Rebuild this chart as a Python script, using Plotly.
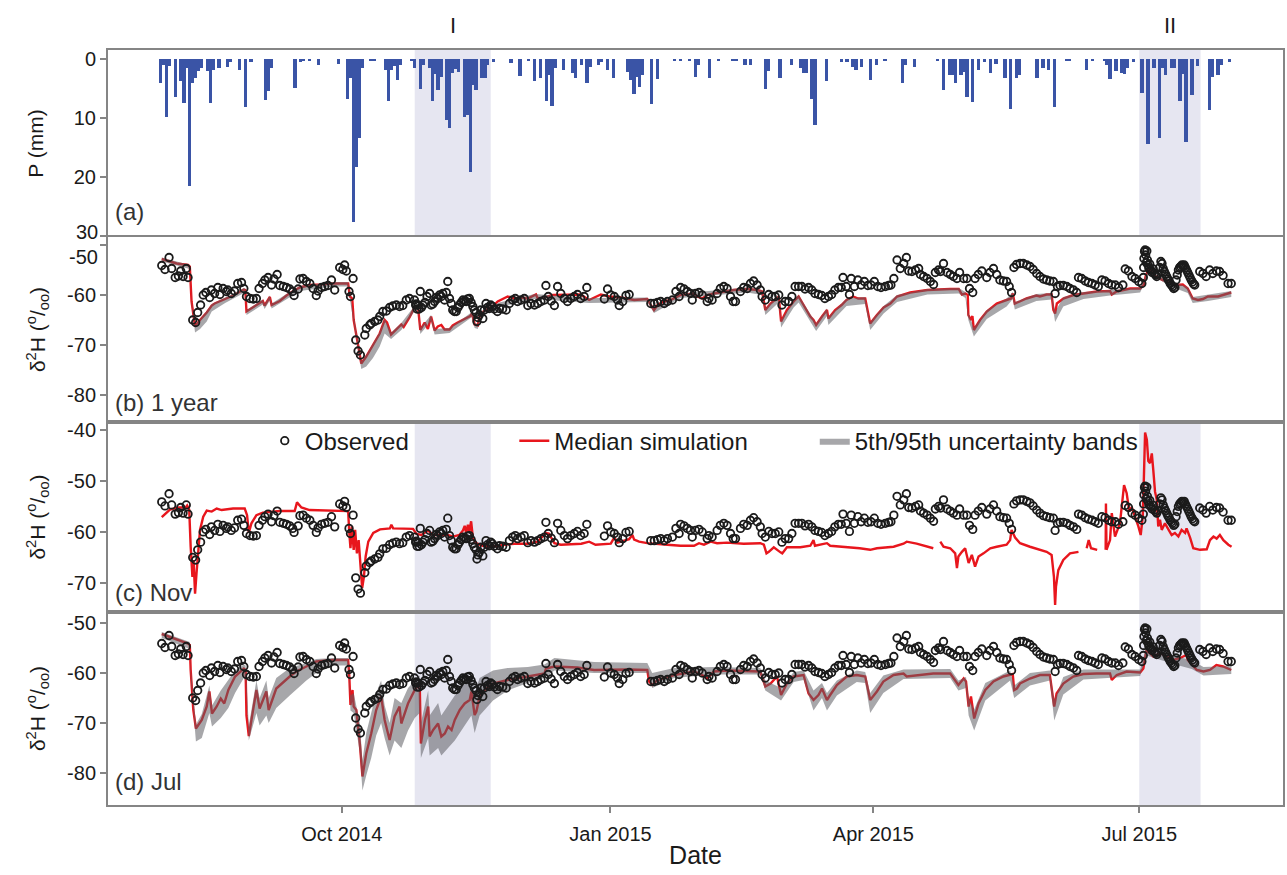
import pandas as pd
import plotly.graph_objects as go
from plotly.subplots import make_subplots

ORIGIN = pd.Timestamp("2014-10-01")  # day numbers below are days since this date

# ---------------- (a) precipitation (mm per day) ----------------
p_day = [-62, -61, -60, -59, -57, -55, -54, -53, -52, -51, -50, -49, -48, -46, -45, -44, -42, -39, -38,
         -35, -33, -31, -26, -25, -24, -16, -14, -13, -11, -8, -1, 2, 3, 4, 5, 6, 7, 10, 11, 15, 16, 17,
         18, 19, 20, 24, 25, 27, 28, 30, 31, 32, 33, 34, 36, 37, 38, 39, 40, 42, 43, 44, 45, 46, 48, 49,
         50, 52, 58, 61, 64, 66, 68, 70, 71, 72, 73, 76, 79, 80, 82, 84, 85, 88, 89, 91, 93, 98, 99, 100,
         101, 102, 103, 106, 108, 114, 116, 119, 121, 122, 126, 129, 134, 135, 138, 140, 145, 146, 150,
         154, 157, 158, 159, 161, 162, 166, 171, 173, 175, 176, 178, 181, 183, 186, 192, 193, 196, 204,
         206, 208, 209, 210, 212, 213, 214, 216, 218, 220, 222, 224, 227, 229, 231, 232, 238, 240, 242,
         244, 248, 249, 255, 257, 261, 262, 263, 265, 267, 268, 269, 271, 274, 276, 278, 280, 281, 282,
         284, 285, 287, 288, 289, 291, 293, 297, 298, 300, 301, 304]
p_mm = [4.1, 1.0, 9.8, 1.2, 6.4, 3.8, 7.5, 1.5, 21.6, 4.1, 3.2, 2.0, 1.5, 2.0, 7.5, 1.8, 1.5, 1.3, 0.5,
        1.9, 8.1, 0.5, 6.9, 5.5, 1.5, 5.0, 0.5, 0.4, 0.4, 1.0, 0.8, 6.8, 3.3, 27.6, 18.3, 13.4, 1.5, 0.4,
        0.4, 1.9, 7.2, 1.9, 1.2, 3.6, 1.0, 0.4, 1.6, 5.1, 1.0, 1.5, 7.2, 2.5, 5.3, 3.0, 10.3, 11.7, 2.4,
        1.7, 2.2, 9.8, 9.5, 19.1, 4.4, 5.3, 3.3, 3.3, 1.0, 0.5, 0.6, 2.8, 0.3, 3.8, 3.3, 7.1, 2.7, 7.9,
        1.6, 1.9, 2.4, 3.3, 1.0, 4.1, 1.3, 1.0, 0.5, 1.9, 3.3, 2.2, 3.5, 6.0, 3.0, 4.7, 2.7, 7.7, 3.4,
        0.4, 0.4, 0.4, 3.0, 1.0, 3.3, 0.4, 0.4, 0.4, 1.0, 1.0, 5.1, 2.0, 3.3, 1.0, 1.5, 2.4, 2.4, 6.7,
        11.2, 3.7, 0.5, 0.5, 1.3, 1.9, 1.3, 3.6, 1.0, 0.3, 4.1, 1.0, 1.3, 0.3, 5.2, 2.7, 2.7, 4.0, 2.7,
        2.2, 6.4, 7.3, 1.8, 0.5, 2.4, 0.8, 3.3, 8.5, 3.3, 2.7, 3.3, 1.5, 1.8, 8.1, 0.4, 0.4, 1.8, 0.4,
        0.4, 1.0, 3.4, 2.0, 2.3, 2.5, 1.6, 0.5, 5.8, 14.5, 1.5, 13.4, 1.6, 2.7, 1.5, 1.5, 7.2, 2.5, 14.1,
        6.1, 1.2, 8.6, 3.0, 2.7, 1.0, 0.5]

# ---------------- observed d2H (permil) ----------------
obs_day = [-61.6, -60.5, -59.1, -58.2, -57.0, -55.9, -55.1, -54.3, -53.2, -52.6, -51.0, -50.0, -49.3, -48.3,
           -47.4, -46.5, -45.2, -44.6, -43.5, -42.4, -41.7, -40.6, -39.5, -39.0, -37.8, -36.7, -35.6, -34.3,
           -33.5, -32.6, -31.4, -30.3, -29.2, -28.3, -27.1, -26.3, -25.2, -24.0, -23.2, -22.1, -21.2, -20.0,
           -18.9, -17.8, -16.8, -16.3, -14.9, -14.3, -13.2, -12.1, -10.9, -9.8, -8.7, -8.1, -6.9, -5.8, -4.7,
           -3.5, -2.4, -0.7, 0.4, 1.0, 1.6, 2.5, 3.0, 3.9, 4.8, 5.6, 6.4, 7.9, 8.4, 9.6, 10.1, 11.3, 12.4, 13.0,
           14.1, 15.3, 16.4, 17.5, 18.7, 19.8, 20.9, 22.1, 23.2, 24.9,
           25.3, 25.5, 25.8, 26.1, 26.5, 26.9, 27.3, 27.8, 28.5, 29.2, 30.1, 30.6, 31.2, 31.8, 32.4, 32.9,
           33.5, 34.1, 34.6, 35.2, 35.8, 36.3, 36.9, 37.5, 38.0, 38.6, 39.2, 39.8, 40.3, 40.9, 41.5, 42.0,
           42.6, 43.1, 43.7, 44.3, 44.9, 45.4, 46.0, 46.3, 46.6, 47.1, 47.6, 48.3, 48.8, 49.4, 49.9, 50.5,
           51.0, 51.6, 52.2, 53.3,
           54.0, 55.1, 56.3, 57.4, 58.5, 59.4, 60.2, 61.4, 62.5, 63.7, 64.8, 66.0, 67.1, 68.2, 69.4, 69.9,
           70.7, 71.7, 72.8, 73.9, 75.0, 76.2, 77.3, 78.4, 79.6, 80.7, 81.8, 83.0, 83.9, 89.9, 91.0, 92.1,
           93.3, 94.4, 95.0, 96.2, 97.3, 98.4, 105.8, 107.0, 108.1, 109.2, 110.4, 111.5, 113.2, 114.4, 115.5,
           116.0, 117.2, 118.3, 119.4, 120.0, 121.1, 122.3, 123.4, 125.1, 125.7, 126.8, 128.5, 129.6, 130.8,
           131.9, 133.1, 134.0, 134.8, 136.5, 137.6, 138.8, 139.9, 141.0, 142.2, 143.3, 143.9, 145.0, 146.2,
           147.3, 148.4, 149.6, 150.7, 151.8, 153.0, 154.1, 155.2, 156.4, 157.5, 158.6, 159.8, 160.9, 162.0,
           163.2, 164.3, 165.4, 166.6, 167.7, 168.8, 170.0, 171.0, 171.6, 172.7, 173.8, 174.4, 175.5, 176.7,
           177.8, 178.9, 180.1, 181.2, 182.3, 183.5, 184.6,
           186.1, 187.2, 188.0, 189.0, 190.1, 191.2, 192.4, 193.3, 194.1, 195.2, 196.4, 197.5, 198.1, 199.2,
           200.4, 201.5, 202.6, 203.2, 204.3, 205.0, 206.0, 207.2, 208.3, 209.4, 210.6, 211.5, 212.9, 214.0,
           214.9, 216.0, 216.8, 217.9, 219.1, 220.8, 221.9, 223.1, 224.2, 225.3, 226.5, 227.6, 228.5, 229.3,
           230.1, 231.0, 232.2, 233.3, 234.5, 235.6, 236.7, 237.9, 239.0, 240.2, 241.3, 242.4, 243.6, 244.2,
           245.0, 245.9, 247.0, 248.2, 249.3, 250.5, 251.6, 252.2, 253.3, 254.5, 255.6, 256.8, 257.9, 259.0,
           260.2, 261.3, 262.5, 263.6, 264.8, 265.9, 267.4, 268.2, 269.3, 270.5, 271.6, 272.8, 273.9,
           274.4, 274.5, 274.6, 274.8, 275.0, 275.2, 275.4, 275.6, 275.8, 276.0, 276.3, 276.6, 277.0, 277.4,
           277.8, 278.2, 278.6, 279.0, 279.4, 280.0, 280.4, 280.8, 281.2, 281.6, 282.0, 282.4, 282.8, 283.2,
           283.6, 284.0, 284.4, 284.8, 285.2, 285.6, 286.0, 286.4, 286.8, 287.2, 287.6, 288.0, 288.4, 288.8,
           289.2, 289.6, 290.0, 290.4, 290.8, 291.2, 291.6, 292.0,
           293.7, 294.8, 295.9, 297.1, 298.2, 299.4, 300.5, 301.7, 303.4, 304.5]
obs_val = [-54.1, -54.9, -52.5, -54.7, -56.5, -56.2, -55.2, -56.3, -54.7, -56.5, -65.0, -65.5, -63.5, -62.0,
           -60.0, -59.5, -60.5, -59.0, -59.7, -58.5, -59.9, -58.7, -59.3, -59.0, -59.7, -59.2, -57.7, -57.5,
           -58.7, -60.3, -60.7, -60.8, -60.7, -58.7, -57.7, -57.0, -56.5, -58.0, -56.8, -55.9, -58.1, -58.3,
           -58.5, -58.8, -59.3, -60.1, -58.8, -56.8, -56.7, -57.3, -57.7, -58.7, -60.1, -59.2, -58.5, -58.3,
           -58.1, -57.0, -59.0, -54.5, -54.9, -54.0, -55.2, -59.3, -60.3, -56.7, -69.0, -71.2, -72.0, -68.0,
           -66.7, -66.0, -65.7, -65.3, -65.0, -64.3, -63.3, -63.2, -62.5, -62.2, -62.0, -62.3, -62.1, -61.0,
           -60.7, -61.0,
           -62.0, -61.8, -62.8, -62.0, -62.8, -59.3, -62.5, -62.0, -61.5, -60.3, -59.7, -62.0, -61.8, -61.3,
           -60.5, -60.7, -60.0, -60.3, -59.7, -61.0, -59.5, -57.3, -60.7, -61.7, -63.0, -63.3, -63.3, -62.5,
           -62.0, -61.5, -61.0, -61.2, -61.3, -60.8, -60.7, -61.5, -62.3, -63.0, -63.5, -65.3, -64.5, -64.0,
           -63.0, -64.7, -63.0, -61.7, -62.5, -62.7, -62.0, -62.3, -62.8, -63.3,
           -62.7, -62.8, -63.0, -61.7, -61.0, -60.7, -61.3, -61.0, -60.7, -62.1, -61.7, -62.0, -61.7, -61.3,
           -61.0, -58.1, -60.3, -61.2, -62.1, -58.3, -59.7, -60.7, -61.3, -60.7, -60.3, -59.9, -60.7, -60.3,
           -58.5, -60.8, -58.8, -60.0, -60.3, -61.0, -62.1, -61.3, -60.1, -59.9, -61.7, -61.7, -61.5, -61.3,
           -61.7, -61.3, -61.0, -59.3, -60.3, -58.5, -58.8, -59.3, -59.7, -61.0, -59.7, -59.5, -60.0, -61.3,
           -60.7, -61.0, -59.7, -58.7, -58.3, -58.7, -60.3, -61.3, -61.3, -59.3, -58.5, -58.7, -57.7, -57.2,
           -58.0, -59.0, -60.3, -61.0, -59.9, -60.3, -60.3, -60.0, -62.0, -61.3, -61.3, -60.3, -58.3, -58.3,
           -58.3, -58.8, -58.5, -59.0, -59.7, -59.9, -60.1, -60.7, -60.3, -59.9, -59.0, -58.5, -58.5, -56.5,
           -58.3, -59.9, -56.7, -58.3, -57.0, -58.0, -57.3, -58.1, -58.0, -57.3, -58.3, -58.5,
           -58.3, -58.1, -58.0, -56.7, -53.0, -54.7, -53.7, -52.5, -55.2, -55.3, -55.0, -54.7, -55.9, -56.3,
           -56.7, -57.3, -57.9, -55.5, -55.0, -55.3, -53.7, -55.5, -55.9, -56.3, -56.7, -55.5, -56.7, -56.7,
           -58.7, -59.5, -56.7, -55.9, -55.2, -56.5, -55.5, -54.7, -55.9, -57.0, -57.2, -57.3, -58.3, -59.5,
           -54.5, -53.9, -53.7, -53.7, -54.0, -54.3, -54.9, -55.7, -56.3, -56.8, -57.0, -57.2, -57.3, -59.7,
           -58.3, -58.1, -58.1, -58.3, -58.7, -59.0, -59.5, -56.5, -56.7, -57.2, -57.5, -57.7, -58.0, -58.3,
           -57.0, -57.2, -57.7, -58.0, -58.0, -58.5, -58.0, -54.8, -55.2, -56.3, -56.7, -57.3, -57.7,
           -56.5, -54.5, -52.7, -51.3, -51.0, -52.0, -53.5, -51.2, -53.0, -54.0, -54.7, -53.8, -55.0, -55.5,
           -54.8, -55.7, -56.0, -56.3, -55.8, -54.5, -53.3, -53.7, -54.7, -55.3, -55.8, -56.3, -56.8, -57.2,
           -57.7, -58.0, -58.3, -58.7, -58.5, -57.0, -56.0, -55.0, -54.5, -54.3, -54.0, -54.2, -54.0, -54.5,
           -55.0, -55.5, -56.0, -56.5, -57.0, -57.4, -57.8, -58.0,
           -55.3, -55.7, -56.3, -55.0, -55.7, -55.2, -55.3, -56.1, -57.7, -57.7]

# ---------------- (b) 1 year: median simulation ----------------
b_day = [-61.6, -56.5, -52.6, -52.0, -51.4, -50.2, -48.5, -46.2, -44.5, -43.5, -39.9, -37.2, -33.5, -33.0,
         -32.6, -29.8, -27.0, -26.4, -24.6, -24.0, -21.2, -18.9, -16.6, -14.3, -10.9, -7.5, -2.9, 2.2, 2.8,
         3.6, 4.1, 5.6, 6.7, 8.4, 10.7, 13.0, 14.7, 15.5, 16.9, 18.7, 20.4, 21.2, 23.2, 24.9, 26.1, 26.9,
         28.4, 29.5, 30.6, 31.8, 32.9, 34.1, 35.2, 36.9, 38.0, 39.7, 41.5, 42.6, 44.0, 44.6, 45.5, 46.6,
         47.4, 49.4, 51.6, 53.4, 56.8, 59.1, 61.4, 63.7, 66.0, 66.5, 67.1, 69.4, 72.2, 75.0, 81.8, 84.7,
         86.5, 88.7, 91.6, 95.6, 100.1, 104.6, 105.8, 106.9, 108.1, 110.4, 112.6, 116.0, 120.6, 121.7,
         123.4, 125.1, 127.4, 130.8, 134.2, 138.8, 142.2, 143.9, 145.0, 146.8, 149.6, 150.4, 152.4, 154.7,
         156.4, 157.8, 160.4, 161.5, 162.4, 164.4, 166.1, 166.6, 168.9, 171.1, 172.8, 175.1, 176.8, 179.2,
         180.3, 180.9, 183.2, 185.5, 187.8, 190.1, 194.6, 200.5, 208.3, 211.2, 212.3, 213.5, 214.3, 214.5,
         215.4, 215.9, 216.4, 218.5, 220.8, 224.2, 227.6, 229.1, 229.7, 230.4, 232.1, 234.4, 237.8, 239.0,
         241.3, 243.0, 243.6, 244.2, 244.8, 247.0, 250.5, 253.9, 258.5, 263.0, 263.6, 265.3, 267.6, 269.9,
         273.3, 274.5, 275.3, 276.5, 278.7, 281.0, 283.3, 285.6, 287.9, 289.6, 291.3, 293.1, 294.8, 296.5,
         300.0, 304.5]
b_med = [-52.8, -53.7, -54.0, -54.3, -61.3, -66.3, -65.0, -63.5, -62.1, -61.7, -60.8, -60.1, -58.9, -59.0,
         -63.3, -62.3, -61.2, -62.1, -60.4, -62.0, -61.2, -60.1, -59.2, -58.5, -58.0, -57.9, -57.7, -57.7,
         -60.3, -60.7, -65.0, -70.0, -73.7, -72.3, -70.0, -67.7, -65.0, -65.5, -67.9, -66.8, -65.9, -66.4,
         -64.5, -62.5, -62.3, -67.0, -65.5, -66.8, -64.3, -67.1, -66.3, -66.0, -66.9, -66.9, -66.1, -65.5,
         -65.0, -64.7, -64.2, -63.7, -65.9, -66.1, -63.7, -63.0, -62.3, -61.3, -60.3, -60.7, -60.5, -60.7,
         -60.1, -59.9, -60.7, -60.5, -60.0, -60.0, -59.9, -61.0, -60.5, -59.9, -60.3, -60.5, -61.0, -60.8,
         -62.0, -63.0, -62.0, -61.3, -61.0, -60.0, -59.7, -60.3, -60.7, -60.0, -59.7, -59.3, -59.0, -58.8,
         -59.0, -59.3, -63.0, -61.7, -60.3, -65.3, -63.0, -61.3, -60.3, -61.7, -64.3, -65.0, -66.0, -64.3,
         -63.0, -64.7, -63.0, -62.0, -61.0, -60.3, -60.7, -60.7, -63.7, -65.7, -64.0, -62.5, -61.7, -60.3,
         -59.5, -59.0, -58.8, -58.8, -59.9, -59.7, -60.0, -64.0, -65.0, -64.2, -67.0, -65.0, -63.3, -61.7,
         -61.0, -60.7, -59.7, -61.7, -61.3, -60.7, -60.1, -60.3, -59.9, -59.9, -63.0, -63.7, -61.7, -60.7,
         -60.0, -59.7, -59.3, -59.2, -59.9, -59.3, -59.0, -58.7, -58.7, -58.0, -56.0, -54.7, -56.3, -57.0,
         -57.3, -58.0, -57.9, -58.7, -60.7, -61.0, -60.8, -60.3, -60.3, -59.5]

# ---------------- (b) 5th/95th band ----------------
bb_day = [-61.6, -52.0, -51.4, -50.2, -48.5, -46.2, -44.5, -39.9, -33.5, -33.0, -32.6, -27.0, -26.4, -24.6,
          -24.0, -18.9, -14.3, -2.9, 2.2, 2.8, 4.1, 5.6, 6.7, 8.4, 10.7, 13.0, 14.7, 16.9, 20.4, 24.9, 26.1,
          26.9, 30.6, 31.8, 36.9, 41.5, 44.6, 45.5, 46.6, 47.4, 53.9, 66.0, 84.7, 104.6, 106.9, 116.0,
          138.8, 143.9, 145.0, 149.6, 150.4, 154.7, 156.4, 162.4, 166.1, 166.6, 172.8, 179.2, 180.9, 185.5,
          190.1, 200.5, 211.2, 213.5, 214.5, 216.4, 220.8, 227.6, 229.7, 230.4, 237.8, 243.0, 244.2, 247.0,
          253.9, 263.0, 273.3, 276.5, 283.3, 289.6, 291.3, 296.5, 304.5]
bb_lo = [-53.3, -54.8, -62.0, -67.5, -66.8, -65.3, -63.3, -61.6, -59.6, -59.6, -64.0, -61.9, -62.8, -61.1,
         -62.7, -60.8, -59.2, -58.3, -58.3, -60.9, -65.6, -71.3, -74.8, -74.3, -72.6, -70.3, -67.7, -68.8,
         -67.0, -63.3, -63.0, -67.8, -65.2, -67.9, -67.6, -65.7, -64.4, -66.6, -66.8, -64.4, -62.4, -60.8,
         -61.6, -61.4, -63.6, -60.6, -59.5, -60.0, -64.0, -61.5, -66.5, -62.5, -61.5, -67.2, -64.2, -66.0,
         -62.2, -61.8, -67.0, -63.7, -61.4, -59.9, -59.7, -60.6, -65.0, -68.3, -64.8, -62.3, -60.8, -62.9,
         -61.2, -60.9, -65.4, -62.3, -60.8, -60.1, -59.5, -55.6, -58.2, -59.6, -61.6, -61.2, -60.4]
bb_hi = [-52.5, -54.0, -61.0, -66.0, -64.7, -63.2, -61.8, -60.5, -58.6, -58.7, -63.0, -60.9, -61.8, -60.1,
         -61.7, -59.8, -58.2, -57.4, -57.4, -60.0, -64.6, -69.6, -73.3, -72.0, -69.7, -67.4, -64.7, -67.5,
         -65.6, -62.2, -62.0, -66.6, -64.0, -66.8, -66.6, -64.7, -63.4, -65.6, -65.8, -63.4, -61.5, -59.8,
         -60.6, -60.5, -62.6, -59.7, -58.5, -59.0, -62.7, -60.0, -65.0, -61.0, -60.0, -65.7, -62.7, -64.4,
         -60.7, -60.4, -65.4, -62.2, -60.0, -58.8, -58.6, -59.4, -63.6, -66.6, -63.0, -60.7, -59.4, -61.4,
         -59.8, -59.6, -63.4, -60.4, -59.4, -59.0, -58.5, -54.4, -57.0, -58.4, -60.4, -60.0, -59.2]

# ---------------- (c) Nov: median simulation (None = gap) ----------------
c_day = [-61.6, -58.8, -56.0, -53.4, -52.9, -52.2, -51.7, -51.1, -50.7, -50.2, -49.7, -49.1, -48.5, -47.4,
         -46.2, -44.5, -42.8, -41.1, -37.2, -33.2, -32.4, -31.8, -30.9, -29.2, -27.0, -21.2, -16.1, -15.3,
         -13.8, -11.0, -2.9, 2.2, 2.6, 3.0, 3.5, 4.1, 4.6, 5.2, 5.8, 6.4, 7.0, 7.6, 8.2, 9.1, 10.8, 13.1,
         16.5, 17.0, 17.6, 24.4, 25.6, 27.3, 29.5, 31.3, 36.3, 38.1, 40.3, 41.5, 42.1, 42.6, 43.2, 43.7,
         44.3, 44.9, 46.0, 48.3, 50.5, 53.9, 55.7, 59.1, 63.7, 67.1, 69.9, 70.9, 72.8, 75.0, 82.0, 84.7,
         86.9, 92.1, 93.3, 94.4, 98.4, 99.5, 100.1, 101.8, 104.6, 111.5, 116.0, 120.6, 122.3, 124.0, 126.3,
         128.5, 131.9, 137.6, 143.3, 144.5, 145.4, 146.2, 147.9, 150.2, 150.8, 152.4, 157.0, 160.4, 161.5,
         162.0, 166.1, 167.2, 171.6, 177.3, 180.9, 183.2, 188.9, 192.3, 193.4, 196.8, 202.5, 203.7, 204.9,
         206.0, 208.3, 210.0, 210.6, 211.1, 212.3, 213.4, 214.6, 215.7, 216.8, 218.0, 219.7, 222.0, 224.2,
         227.6, 228.8, 229.3, 230.5, 232.2, 235.6, 239.0, 241.3, 243.0, 243.8, 244.2, 244.5, 245.3, 247.0,
         249.3, 252.2, 253.6, 255.0, 255.7, 256.5, 258.6, 260.0, 261.5, 261.6, 261.8, 263.0, 263.6, 264.7,
         266.4, 267.0, 267.8, 268.7, 269.6, 270.4, 271.6, 272.7, 273.5, 274.2, 274.6, 275.0, 275.6, 276.1,
         276.7, 277.3, 277.8, 278.4, 279.0, 279.5, 280.1, 280.7, 281.8, 282.9, 284.1, 285.2, 286.4, 287.5,
         288.7, 289.2, 290.4, 291.5, 293.8, 296.1, 297.2, 298.4, 299.5, 300.6, 301.8, 303.5, 304.6]
c_med = [-57.1, -55.6, -55.2, -55.2, -54.8, -55.6, -62.9, -68.8, -65.5, -72.1, -68.1, -62.9, -59.6, -57.0,
         -55.8, -56.0, -55.4, -55.7, -55.4, -55.4, -56.7, -60.2, -58.3, -56.7, -56.2, -55.9, -55.9, -54.2,
         -55.2, -55.7, -55.9, -55.9, -60.2, -63.2, -58.9, -63.5, -59.6, -64.2, -61.6, -66.1, -71.0, -68.8,
         -64.8, -61.9, -60.2, -59.5, -59.3, -58.6, -59.3, -59.4, -60.4, -60.6, -59.7, -60.6, -60.6, -60.9,
         -60.6, -59.7, -58.8, -60.2, -58.6, -59.9, -57.9, -61.1, -62.2, -62.7, -62.9, -62.7, -62.5, -62.3,
         -62.3, -61.9, -60.2, -60.3, -62.2, -62.5, -62.3, -61.9, -62.5, -62.3, -61.1, -62.1, -61.4, -60.6,
         -61.5, -61.9, -62.2, -62.5, -62.7, -62.7, -62.2, -62.5, -61.9, -62.2, -62.1, -62.3, -62.2, -62.5,
         -64.2, -63.9, -63.0, -64.0, -64.2, -63.0, -63.0, -62.7, -61.6, -62.7, -62.2, -62.7, -62.9, -63.2,
         -63.5, -63.2, -62.9, -62.3, -61.9, -62.3, -63.2, None, -61.9, -62.9, -63.2, -64.2, -67.1, -64.8,
         -63.9, -63.2, -66.1, -64.5, -66.8, -64.8, -64.2, -63.2, -62.9, -62.5, -61.6, -59.6, -61.1, -62.2,
         -62.9, -63.5, -63.9, -64.5, -68.8, -74.3, -70.7, -67.5, -65.5, -64.2, -63.9, None, -63.2, -61.6,
         -63.2, -63.5, None, -63.5, -54.4, -63.5, -61.6, -56.3, -60.9, -58.3, -55.1, -50.8, -52.4, -56.0,
         -55.1, -57.0, -58.9, -60.6, -57.0, -49.1, -40.5, -41.9, -46.1, -46.5, -44.6, -47.8, -52.1, -53.7,
         -58.9, -57.6, -59.6, -58.3, -59.3, -60.6, -60.2, -60.9, -59.6, -60.2, -59.3, -61.1, -63.2, -63.5,
         -63.4, -61.6, -60.9, -61.3, -60.6, -61.6, -62.5, -62.9]

# ---------------- (d) Jul: median simulation ----------------
d_day = [-61.6, -56.5, -52.6, -52.0, -51.7, -50.8, -49.9, -47.9, -46.2, -45.3, -44.4, -42.8, -41.4, -40.2,
         -38.8, -36.5, -33.5, -32.9, -32.6, -31.8, -29.2, -28.1, -25.8, -25.0, -22.4, -17.8, -15.5, -12.1,
         -8.7, -2.9, 2.2, 2.6, 3.0, 3.7, 4.1, 5.0, 6.2, 7.1, 8.4, 10.1, 11.8, 13.5, 14.7, 16.4, 18.1, 19.8,
         20.4, 22.7, 25.0, 26.7, 27.1, 28.5, 29.6, 30.1, 31.3, 33.0, 34.1, 35.3, 36.4, 37.6, 38.7, 40.4,
         42.1, 43.8, 44.4, 45.5, 46.1, 47.2, 49.5, 51.8, 56.8, 63.7, 69.4, 69.9, 72.8, 80.7, 86.4, 97.8,
         104.6, 105.2, 106.3, 108.1, 113.8, 120.6, 123.4, 125.1, 127.4, 131.9, 143.3, 145.0, 146.8, 149.0,
         150.4, 152.4, 154.7, 158.1, 159.8, 161.5, 163.2, 164.4, 166.1, 167.2, 169.5, 172.9, 176.3, 179.2,
         180.3, 180.9, 183.2, 185.4, 188.9, 192.3, 193.4, 202.5, 208.3, 211.1, 212.9, 213.7, 214.6, 215.4,
         216.5, 218.0, 220.3, 223.1, 226.5, 228.8, 229.7, 230.2, 231.1, 232.2, 235.6, 239.0, 242.4, 243.4,
         243.9, 244.7, 247.0, 250.4, 253.9, 258.4, 263.0, 263.6, 265.3, 268.7, 273.3, 274.4, 275.5, 277.8,
         280.1, 282.4, 284.7, 287.0, 289.2, 289.6, 291.0, 292.7, 295.0, 297.2, 299.4, 301.7, 304.5]
d_med = [-52.2, -53.3, -54.1, -54.4, -59.4, -67.4, -71.1, -69.4, -66.7, -63.7, -68.1, -66.7, -65.1, -66.1,
         -63.4, -60.7, -59.1, -59.4, -68.5, -72.6, -63.4, -67.1, -63.7, -67.4, -63.1, -60.7, -59.7, -58.7,
         -57.7, -57.4, -57.4, -60.7, -66.4, -63.4, -66.7, -67.4, -74.1, -80.7, -76.1, -72.1, -67.4, -64.7,
         -69.4, -73.4, -68.7, -66.7, -70.1, -66.1, -63.4, -62.1, -74.1, -69.4, -66.7, -72.7, -71.4, -70.1,
         -72.7, -72.1, -70.7, -71.4, -69.4, -67.4, -66.1, -65.4, -63.7, -68.4, -67.7, -64.7, -63.1, -62.1,
         -61.4, -60.7, -60.1, -59.1, -58.7, -58.9, -59.4, -59.3, -59.4, -61.7, -62.4, -61.4, -60.4, -59.7,
         -60.4, -61.1, -59.7, -59.5, -59.7, -62.7, -62.1, -60.7, -64.4, -62.1, -60.7, -60.4, -64.1, -65.4,
         -64.4, -63.1, -65.4, -64.4, -62.4, -60.7, -60.4, -60.7, -64.1, -65.4, -63.7, -61.7, -60.4, -60.1,
         -60.7, -60.1, -60.1, -62.4, -61.1, -61.7, -66.7, -64.7, -69.1, -66.1, -63.4, -61.7, -60.7, -60.4,
         -60.2, -63.4, -63.1, -62.1, -61.1, -60.4, -60.4, -64.7, -66.7, -64.1, -62.1, -60.7, -60.2, -60.1,
         -60.1, -61.4, -60.4, -59.7, -59.9, -59.1, -55.4, -56.7, -56.0, -56.7, -57.4, -57.0, -56.4, -57.4,
         -58.4, -59.4, -59.7, -59.4, -58.4, -58.7, -59.4]

# ---------------- (d) 5th/95th band ----------------
db_day = [-61.6, -52.0, -51.7, -49.9, -47.9, -45.3, -44.4, -41.4, -38.8, -36.5, -33.5, -32.9, -31.8, -29.2,
          -28.1, -25.8, -25.0, -22.4, -17.8, -12.1, -8.7, -2.9, 2.2, 2.6, 3.0, 4.1, 6.2, 7.1, 8.4, 10.1,
          11.8, 13.5, 14.7, 16.4, 18.1, 20.4, 22.7, 25.0, 26.7, 27.1, 29.6, 30.1, 33.0, 34.1, 36.4, 38.7,
          42.1, 44.4, 45.5, 47.2, 51.8, 56.8, 63.7, 69.4, 72.8, 86.4, 104.6, 106.3, 113.8, 127.4, 143.3,
          145.0, 150.4, 154.7, 158.1, 161.5, 164.4, 166.1, 169.5, 176.3, 179.2, 180.9, 185.4, 192.3, 208.3,
          211.1, 213.7, 214.6, 216.5, 220.3, 228.8, 230.2, 235.6, 242.4, 243.9, 247.0, 253.9, 263.0, 273.3,
          275.5, 284.7, 291.0, 295.0, 304.5]
db_lo = [-53.0, -55.2, -61.0, -73.7, -73.0, -68.0, -70.7, -69.0, -67.0, -64.0, -61.0, -61.5, -73.5, -68.0,
         -70.5, -68.5, -70.0, -67.0, -64.5, -61.5, -60.0, -58.5, -58.5, -61.5, -67.5, -68.0, -76.0, -83.5,
         -80.5, -77.0, -72.5, -70.0, -73.0, -76.5, -73.5, -75.0, -71.5, -69.0, -68.0, -77.0, -73.0, -76.5,
         -75.0, -76.5, -75.0, -73.5, -70.5, -68.5, -72.0, -68.5, -65.5, -63.5, -62.0, -61.0, -59.5, -60.0,
         -60.0, -63.0, -61.0, -60.3, -60.3, -63.5, -65.5, -61.8, -61.4, -67.5, -65.0, -67.5, -64.5, -61.8,
         -62.0, -68.0, -64.0, -61.2, -61.0, -63.5, -63.0, -68.5, -71.5, -65.5, -61.5, -65.0, -62.5, -61.5,
         -69.5, -64.3, -61.3, -61.0, -60.6, -56.5, -58.2, -59.2, -60.5, -60.2]
db_hi = [-51.8, -53.8, -58.6, -70.3, -68.2, -62.5, -66.5, -63.5, -61.5, -59.5, -58.3, -58.5, -70.5, -61.5,
         -65.0, -61.5, -65.0, -61.0, -59.0, -58.0, -57.2, -57.0, -57.0, -59.5, -64.5, -64.0, -70.0, -77.5,
         -72.0, -68.0, -64.0, -61.5, -66.5, -70.0, -65.0, -66.0, -63.0, -61.5, -60.5, -70.0, -63.5, -68.5,
         -66.0, -68.5, -66.5, -64.5, -62.0, -60.5, -64.0, -61.0, -59.5, -59.0, -58.8, -58.3, -57.0, -57.8,
         -58.0, -60.0, -59.0, -58.8, -59.0, -61.5, -63.0, -59.8, -59.5, -63.5, -62.0, -64.0, -61.5, -59.5,
         -59.8, -64.0, -60.5, -59.3, -59.2, -61.5, -60.8, -65.0, -67.3, -62.0, -59.5, -62.5, -60.0, -59.5,
         -65.5, -60.8, -59.3, -59.3, -59.3, -54.5, -56.5, -57.5, -58.8, -58.6]

# ---------------- highlighted events ----------------
ev_start = ["2014-10-26", "2015-07-01"]
ev_end = ["2014-11-21", "2015-07-22"]
ev_label = ["I", "II"]

# axis tick values
x_ticks = ["2014-10-01", "2015-01-01", "2015-04-01", "2015-07-01"]
x_ticktext = ["Oct 2014", "Jan 2015", "Apr 2015", "Jul 2015"]
p_ticks = [0, 10, 20, 30]
b_ticks = [-50, -60, -70, -80]
c_ticks = [-40, -50, -60, -70]
d_ticks = [-50, -60, -70, -80]

# ================= figure =================
def to_dates(days):
    return [ORIGIN + pd.Timedelta(days=float(d)) for d in days]

RED = "#E8161D"
BAND = "rgba(95,95,100,0.55)"
OBS = "#1b1b1b"
FONT = "Liberation Sans, Arial, Helvetica, sans-serif"
TXT = "#1a1a1a"

fig = make_subplots(rows=4, cols=1, shared_xaxes=True, vertical_spacing=0,
                    row_heights=[187, 185, 190, 193])

fig.add_trace(go.Bar(x=to_dates(p_day), y=p_mm, marker=dict(color="#3A54A6", line=dict(width=0)),
                     width=1.15 * 86400000, showlegend=False), row=1, col=1)

def add_band(days, lo, hi, row, show):
    dd = to_dates(days)
    fig.add_trace(go.Scatter(x=dd + dd[::-1], y=lo + hi[::-1], fill="toself", fillcolor=BAND,
                             line=dict(width=0), mode="lines", hoverinfo="skip",
                             name="5th/95th uncertainty bands", showlegend=show, legend="legend3"),
                  row=row, col=1)

def add_obs(row, show):
    fig.add_trace(go.Scatter(x=to_dates(obs_day), y=obs_val, mode="markers",
                             marker=dict(symbol="circle-open", size=7.5, color=OBS, line=dict(width=1.8)),
                             name="Observed", showlegend=show, legend="legend"), row=row, col=1)

# (b)
fig.add_trace(go.Scatter(x=to_dates(b_day), y=b_med, mode="lines", line=dict(color=RED, width=2.4),
                         name="Median simulation", showlegend=True, legend="legend2"), row=2, col=1)
add_band(bb_day, bb_lo, bb_hi, 2, True)
add_obs(2, True)
# (c)
fig.add_trace(go.Scatter(x=to_dates(c_day), y=c_med, mode="lines", line=dict(color=RED, width=2.4),
                         showlegend=False), row=3, col=1)
add_obs(3, False)
# (d)
fig.add_trace(go.Scatter(x=to_dates(d_day), y=d_med, mode="lines", line=dict(color=RED, width=2.4),
                         showlegend=False), row=4, col=1)
add_band(db_day, db_lo, db_hi, 4, False)
add_obs(4, False)

# event shading across all panels + labels
for s, e, lab_ in zip(ev_start, ev_end, ev_label):
    fig.add_shape(type="rect", xref="x", yref="paper", x0=s, x1=e, y0=0, y1=1,
                  fillcolor="rgba(200,200,224,0.45)", line=dict(width=0), layer="below")
    mid = pd.Timestamp(s) + (pd.Timestamp(e) - pd.Timestamp(s)) / 2
    fig.add_annotation(x=mid, xref="x", y=1.033, yref="paper", text=lab_, showarrow=False,
                       yanchor="middle", font=dict(size=22, color=TXT, family=FONT))

panel_labels = ["(a)", "(b) 1 year", "(c) Nov", "(d) Jul"]
label_lift = [10, 4, 4, 8]
for i, t in enumerate(panel_labels):
    yref = "y domain" if i == 0 else f"y{i+1} domain"
    fig.add_annotation(x=0.004, xref="paper", y=0.0, yref=yref, text=t, showarrow=False,
                       xanchor="left", yanchor="bottom", yshift=label_lift[i],
                       font=dict(size=24, color="#333333", family=FONT))

frame = dict(showline=True, mirror=True, linecolor="#858585", linewidth=2, showgrid=False, zeroline=False)
xr = ["2014-07-13", "2015-08-19 05:00"]
for r in range(1, 5):
    fig.update_xaxes(range=xr, type="date", row=r, col=1, **frame)
    if r < 4:
        fig.update_xaxes(ticks="", showticklabels=False, row=r, col=1)
fig.update_xaxes(ticks="outside", ticklen=6, tickcolor="#858585", tickwidth=1.5,
                 tickvals=x_ticks, ticktext=x_ticktext, ticklabelstandoff=4,
                 tickfont=dict(size=20, color=TXT, family=FONT),
                 title=dict(text="Date", font=dict(size=25, color=TXT, family=FONT), standoff=2),
                 row=4, col=1)

def lab(v):
    return str(v).replace("\u2212", "-")

ytitle_iso = "δ<sup>2</sup>H (<sup>o</sup>/<sub>oo</sub>)"
ycfg = [
    dict(range=[30.2, -1.53], tickvals=p_ticks, text=[lab(v) for v in p_ticks[:-1]] + [""], title="P (mm)", so=24),
    dict(range=[-85.4, -48.4], tickvals=b_ticks, text=[""] + [lab(v) for v in b_ticks[1:]], title=ytitle_iso, so=16),
    dict(range=[-75.7, -38.43], tickvals=c_ticks, text=[lab(v) for v in c_ticks], title=ytitle_iso, so=16),
    dict(range=[-86.4, -47.8], tickvals=d_ticks, text=[lab(v) for v in d_ticks], title=ytitle_iso, so=16),
]
for r, c in enumerate(ycfg, start=1):
    fig.update_yaxes(range=c["range"], tickvals=c["tickvals"], ticktext=c["text"], ticks="outside", ticklen=6,
                     tickcolor="#858585", tickwidth=1.5,
                     tickfont=dict(size=20, color=TXT, family=FONT),
                     title=dict(text=c["title"], font=dict(size=21, color=TXT, family=FONT), standoff=c["so"]),
                     row=r, col=1, **frame)

# the two labels where panels (a) and (b) meet are nudged apart, as in the original
fig.add_annotation(x=0, xref="paper", y=p_ticks[-1], yref="y", text=lab(p_ticks[-1]), showarrow=False,
                   xanchor="right", yanchor="middle", xshift=-8, yshift=4,
                   font=dict(size=20, color=TXT, family=FONT))
fig.add_annotation(x=0, xref="paper", y=b_ticks[0], yref="y2", text=lab(b_ticks[0]), showarrow=False,
                   xanchor="right", yanchor="middle", xshift=-8, yshift=-12,
                   font=dict(size=20, color=TXT, family=FONT))

leg_common = dict(orientation="h", yanchor="middle", y=0.482, xanchor="left",
                  font=dict(size=24, color=TXT, family=FONT), bgcolor="rgba(0,0,0,0)",
                  borderwidth=0)
fig.update_layout(
    width=1287, height=875,
    margin=dict(l=108, r=2, t=50, b=70),
    plot_bgcolor="white", paper_bgcolor="white",
    bargap=0, barmode="overlay",
    font=dict(family=FONT, color=TXT),
    legend=dict(x=0.1334, **leg_common),
    legend2=dict(x=0.3458, **leg_common),
    legend3=dict(x=0.6015, **leg_common),
)

fig.write_html("out.html")
